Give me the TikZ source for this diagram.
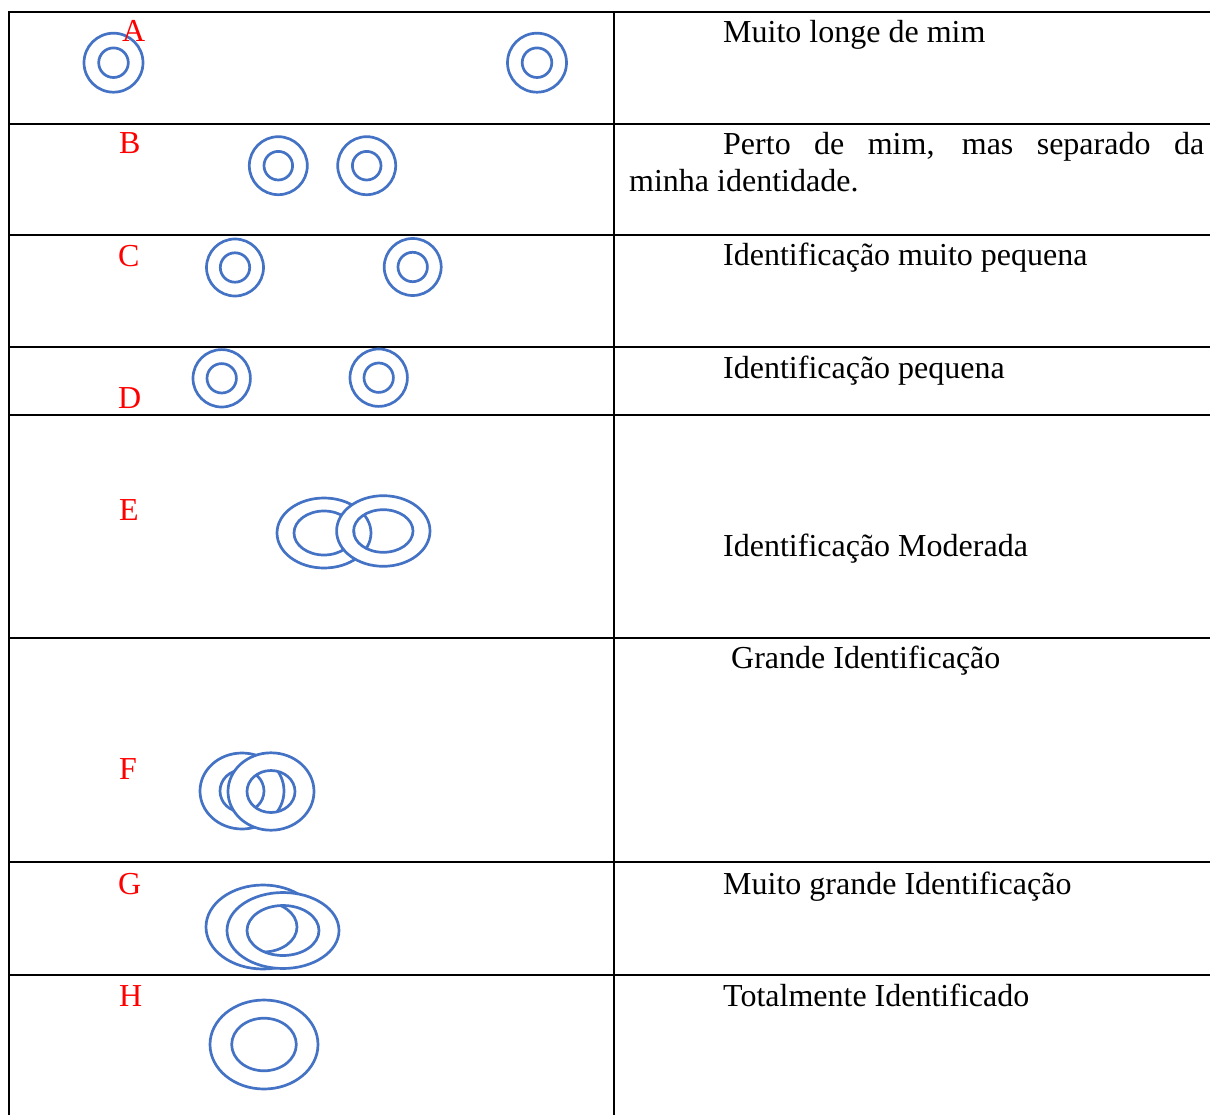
\documentclass[tikz,border=0pt]{standalone}
\usepackage{fontspec}
\setmainfont{Liberation Serif}
\usetikzlibrary{positioning}
\definecolor{ringBlue}{RGB}{68,114,196}
\definecolor{lblRed}{RGB}{255,0,0}

% one ring: centre x, centre y, outer radii, inner radii
\newcommand{\donut}[6]{%
  \filldraw[ringline] (#1,#2) ellipse[x radius=#3pt, y radius=#4pt]
    (#1,#2) ellipse[x radius=#5pt, y radius=#6pt];}

\begin{document}
\begin{tikzpicture}[x=1pt, y=-1pt,
  grid/.style={black, line width=1.8pt, line cap=rect},
  ringline/.style={ringBlue, fill=white, even odd rule, line width=2.7pt},
  lbl/.style={anchor=base west, inner sep=0pt, text=lblRed, font=\fontsize{32}{37}\selectfont},
  desc/.style={anchor=base west, inner sep=0pt, font=\fontsize{32}{37}\selectfont}]
  \useasboundingbox (0,0) rectangle (1210,1115);

  % Table
  \foreach \yy in {12,124,235,347,415,638,862,975}
    \draw[grid] (9,\yy) -- (1210,\yy);
  \draw[grid] (9,12) -- (9,1115);
  \draw[grid] (614,12) -- (614,1115);

  % Rings
  \donut{113.5}{62.7}{29.5}{29.5}{14.8}{14.8}
  \donut{537}{62.7}{29.5}{29.5}{14.8}{14.8}
  \donut{278.3}{165.7}{29}{29}{14.3}{14.3}
  \donut{366.7}{165.7}{29}{29}{14.3}{14.3}
  \donut{235}{267.5}{28.5}{28.5}{14.7}{14.7}
  \donut{412.7}{267}{28.5}{28.5}{14.7}{14.7}
  \donut{221.7}{378.3}{28.7}{28.7}{14.7}{14.7}
  \donut{378.7}{377.7}{28.7}{28.7}{14.7}{14.7}
  \donut{324}{533}{47}{35}{30}{22}
  \donut{383.3}{531}{46.7}{35.3}{29.7}{21.3}
  \donut{242}{791}{42}{38}{22}{21}
  \donut{271}{791.5}{43}{38.7}{24}{21}
  \donut{263}{927}{57}{42}{34}{25}
  \donut{283}{930.5}{56}{38}{36}{25}
  \donut{264}{1044.5}{54}{44.5}{32.3}{26.3}

  % Row letters
  \node[lbl] (lblA) at (122,42) {A};
  \node[lbl] (lblB) at (119,154) {B};
  \node[lbl] (lblC) at (118,267) {C};
  \node[lbl] (lblD) at (118,408) {D};
  \node[lbl] (lblE) at (119,520) {E};
  \node[lbl] (lblF) at (119,779) {F};
  \node[lbl] (lblG) at (118,894) {G};
  \node[lbl] (lblH) at (119,1006) {H};

  % Descriptions
  \node[desc] (txtA) at (723,43) {Muito longe de mim};
  \node[desc, text width=575pt, align=justify] (txtB) at (629,155)
    {\hspace*{94pt}Perto de mim, mas separado da\linebreak minha identidade.};
  \node[desc] (txtC) at (723,266) {Identificação muito pequena};
  \node[desc] (txtD) at (723,378) {Identificação pequena};
  \node[desc] (txtE) at (723,556) {Identificação Moderada};
  \node[desc] (txtF) at (731,668) {Grande Identificação};
  \node[desc] (txtG) at (723,894) {Muito grande Identificação};
  \node[desc] (txtH) at (723,1006) {Totalmente Identificado};
\end{tikzpicture}
\end{document}
